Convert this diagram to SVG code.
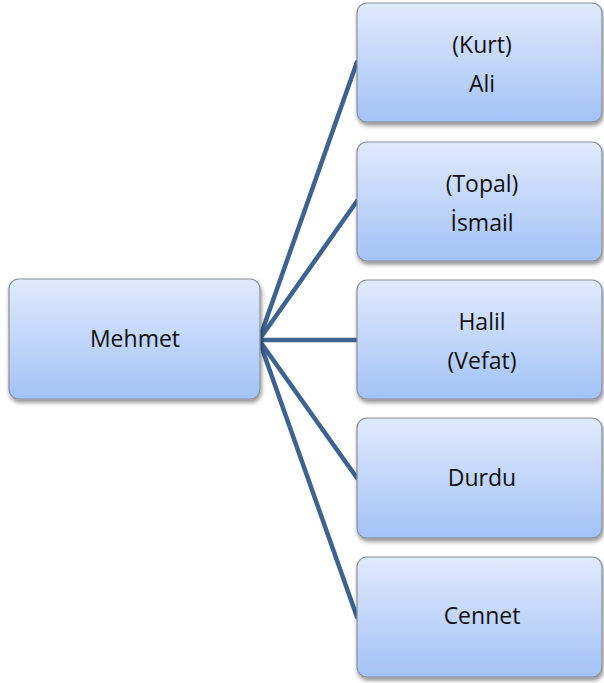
<svg xmlns="http://www.w3.org/2000/svg" width="604" height="683" viewBox="0 0 604 683">
<defs>
<linearGradient id="g" x1="0" y1="0" x2="0" y2="1">
<stop offset="0" stop-color="#e0eafc"/>
<stop offset="1" stop-color="#a3c2f6"/>
</linearGradient>
<filter id="sh" x="-10%" y="-10%" width="130%" height="130%">
<feGaussianBlur in="SourceAlpha" stdDeviation="2"/>
<feOffset dx="1" dy="3"/>
<feComponentTransfer><feFuncA type="linear" slope="0.45"/></feComponentTransfer>
<feMerge><feMergeNode/><feMergeNode in="SourceGraphic"/></feMerge>
</filter>
</defs>
<style>
.box{fill:url(#g);stroke:#8c9097;stroke-width:1.2;filter:url(#sh)}
.t{font-family:"Open Sans","Liberation Sans",sans-serif;font-size:23px;fill:#111;text-anchor:middle}
.c{stroke:#3d6390;stroke-width:4.5;fill:none;stroke-linecap:round}
</style>
<g id="connectors">
<line class="c" x1="259" y1="340" x2="357" y2="62"/>
<line class="c" x1="259" y1="340" x2="357" y2="201"/>
<line class="c" x1="259" y1="340" x2="357" y2="340"/>
<line class="c" x1="259" y1="340" x2="357" y2="478"/>
<line class="c" x1="259" y1="340" x2="357" y2="617"/>
</g>
<g id="mehmet">
<rect class="box" x="9" y="279" width="251" height="120" rx="10"/>
<text class="t" x="135" y="347">Mehmet</text>
</g>
<g id="ali">
<rect class="box" x="357" y="3" width="245" height="119" rx="10"/>
<text class="t" x="482" y="53">(Kurt)</text>
<text class="t" x="482" y="92">Ali</text>
</g>
<g id="ismail">
<rect class="box" x="357" y="142" width="245" height="119" rx="10"/>
<text class="t" x="482" y="192">(Topal)</text>
<text class="t" x="482" y="231">İsmail</text>
</g>
<g id="halil">
<rect class="box" x="357" y="280" width="245" height="119" rx="10"/>
<text class="t" x="482" y="330">Halil</text>
<text class="t" x="482" y="369">(Vefat)</text>
</g>
<g id="durdu">
<rect class="box" x="357" y="418" width="245" height="120" rx="10"/>
<text class="t" x="482" y="486">Durdu</text>
</g>
<g id="cennet">
<rect class="box" x="357" y="557" width="245" height="120" rx="10"/>
<text class="t" x="482" y="624">Cennet</text>
</g>
</svg>
